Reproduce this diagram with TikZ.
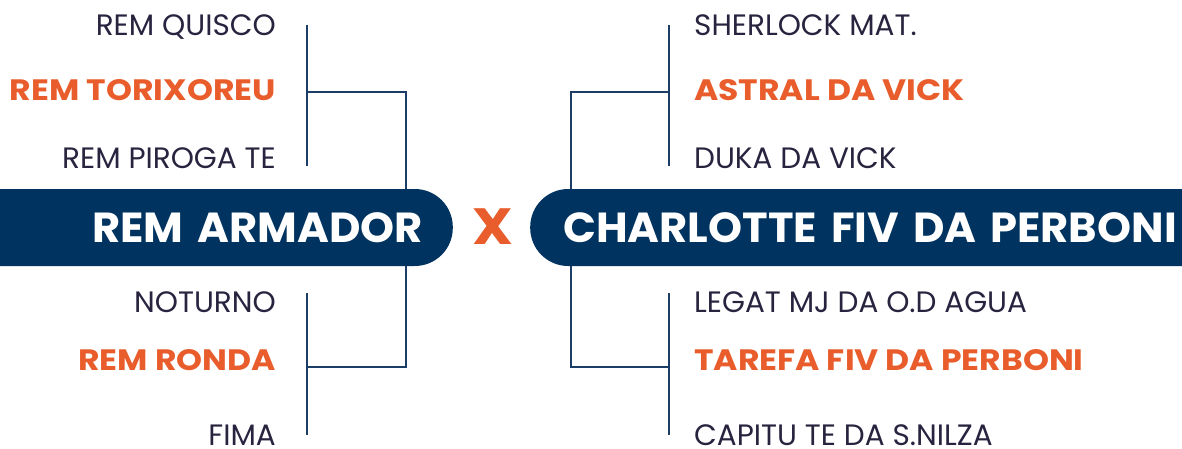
\documentclass[tikz,border=0pt]{standalone}
\usepackage{fontspec}
\setmainfont{Poppins}
\newfontfamily\negrito{Poppins}[FakeStretch=1.12]
\newfontfamily\faixa{Poppins}[FakeStretch=1.03]
\usetikzlibrary{positioning}
\definecolor{navy}{HTML}{00335F}
\definecolor{linha}{HTML}{1C3D66}
\definecolor{laranja}{HTML}{E95D2C}
\definecolor{texto}{HTML}{28243F}

\begin{document}
\begin{tikzpicture}[x=1pt, y=-1pt,
  nome/.style={text=texto, font=\fontsize{29.5}{30}\selectfont, inner sep=0pt},
  destaque/.style={text=laranja, font=\negrito\fontsize{29.5}{30}\selectfont\bfseries, inner sep=0pt},
  barra/.style={fill=navy, text=white, font=\faixa\fontsize{42}{42}\selectfont\bfseries,
    rounded corners=38pt, minimum height=77pt, inner ysep=0pt},
  ramo/.style={draw=linha, line width=2.4pt}]
   \useasboundingbox (0,0) rectangle (1182,448);
   \clip (0,0) rectangle (1182,448);

   % barras do pai e da mae
   \node[barra, anchor=east, inner xsep=30pt, text width=480pt, align=right] (pai) at (453,227.5) {REM ARMADOR};
   \node[barra, anchor=west, inner xsep=33pt, text width=700pt, align=left] (mae) at (530,227.5) {CHARLOTTE FIV DA PERBONI};
   \node[text=laranja, font=\negrito\fontsize{51}{51}\selectfont\bfseries, inner sep=0pt] (x) at (492.5,226.5) {X};

   % avos paternos
   \node[nome, anchor=base east] (pp)  at (276,35)  {REM QUISCO};
   \node[destaque, anchor=base east] (ps) at (276,100) {REM TORIXOREU};
   \node[nome, anchor=base east] (pm)  at (276,168) {REM PIROGA TE};
   \node[nome, anchor=base east] (qp)  at (276,312) {NOTURNO};
   \node[destaque, anchor=base east] (qs) at (276,370) {REM RONDA};
   \node[nome, anchor=base east] (qm)  at (276,445) {FIMA};

   % avos maternos
   \node[nome, anchor=base west] (mp)  at (694,35)  {SHERLOCK MAT.};
   \node[destaque, anchor=base west] (ms) at (694,100) {ASTRAL DA VICK};
   \node[nome, anchor=base west] (mm)  at (694,168) {DUKA DA VICK};
   \node[nome, anchor=base west] (np)  at (694,312) {LEGAT MJ DA O.D AGUA};
   \node[destaque, anchor=base west] (ns) at (694,370) {TAREFA FIV DA PERBONI};
   \node[nome, anchor=base west] (nm)  at (694,445) {CAPITU TE DA S.NILZA};

   % chaves
   \coordinate (a1) at (307,25);  \coordinate (a2) at (307,166);
   \coordinate (aj) at (307,92);  \coordinate (ak) at (406,92);
   \coordinate (b1) at (307,293); \coordinate (b2) at (307,435);
   \coordinate (bj) at (307,367); \coordinate (bk) at (406,367);
   \coordinate (c1) at (669,25);  \coordinate (c2) at (669,166);
   \coordinate (cj) at (669,92);  \coordinate (ck) at (571,92);
   \coordinate (d1) at (669,293); \coordinate (d2) at (669,435);
   \coordinate (dj) at (669,367); \coordinate (dk) at (571,367);

   \draw[ramo] (a1) -- (a2);
   \draw[ramo] (aj) -- (ak) -- (ak |- pai.north);
   \draw[ramo] (b1) -- (b2);
   \draw[ramo] (bj) -- (bk) -- (bk |- pai.south);
   \draw[ramo] (c1) -- (c2);
   \draw[ramo] (cj) -- (ck) -- (ck |- mae.north);
   \draw[ramo] (d1) -- (d2);
   \draw[ramo] (dj) -- (dk) -- (dk |- mae.south);
\end{tikzpicture}
\end{document}
